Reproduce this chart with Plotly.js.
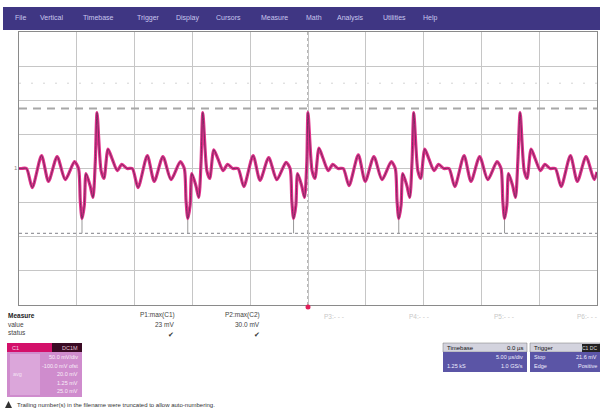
<!DOCTYPE html>
<html>
<head>
<meta charset="utf-8">
<script src="https://cdn.plot.ly/plotly-3.0.1.min.js"></script>
<style>html,body{margin:0;padding:0;background:#fff;}#chart{width:600px;height:411px;}</style>
</head>
<body>
<div id="chart"></div>
<script>
// Waveform C1, time in divisions (centre = 0), amplitude in divisions
const timeDiv = [
  -5.00,-4.96,-4.87,-4.77,-4.61,-4.49,-4.34,-4.20,-4.04,-3.97,-3.94,-3.91,-3.87,-3.84,-3.77,-3.72,-3.68,
  -3.65,-3.58,-3.53,-3.46,-3.39,-3.30,-3.22,-3.13,-3.04,-2.94,-2.78,-2.66,-2.51,-2.37,-2.21,-2.14,-2.11,-2.08,-2.04,-2.01,-1.94,-1.89,-1.85,
  -1.82,-1.75,-1.70,-1.63,-1.56,-1.47,-1.39,-1.30,-1.21,-1.11,-0.95,-0.83,-0.68,-0.54,-0.38,-0.31,-0.28,-0.25,-0.21,-0.18,-0.11,-0.06,-0.02,
  0.00,0.07,0.12,0.19,0.26,0.35,0.43,0.52,0.61,0.71,0.87,0.99,1.14,1.28,1.44,1.51,1.54,1.57,1.61,1.64,1.71,1.76,1.80,
  1.83,1.90,1.95,2.02,2.09,2.18,2.26,2.35,2.44,2.54,2.70,2.82,2.97,3.11,3.27,3.34,3.37,3.40,3.44,3.47,3.54,3.59,3.63,
  3.67,3.74,3.79,3.86,3.93,4.02,4.10,4.19,4.28,4.38,4.54,4.66,4.81,4.95,5.00
];
const voltDiv = [
  0,0,0,-0.56,0.38,-0.38,0.35,-0.33,0.2,0,-0.94,-1.47,-1.08,-0.15,-0.5,-0.85,0.2,
  1.64,-0.06,-0.29,0.57,0.29,-0.06,0.12,0,0,-0.56,0.38,-0.38,0.35,-0.33,0.2,0,-0.94,-1.47,-1.08,-0.15,-0.5,-0.85,0.2,
  1.64,-0.06,-0.29,0.55,0.29,-0.06,0.12,0,0,-0.53,0.38,-0.35,0.32,-0.33,0.18,0,-0.94,-1.47,-1.08,-0.15,-0.5,-0.85,0.2,
  1.64,-0.06,-0.29,0.6,0.3,-0.06,0.12,0,0,-0.5,0.4,-0.38,0.35,-0.33,0.2,0,-0.94,-1.47,-1.08,-0.15,-0.5,-0.85,0.2,
  1.64,-0.06,-0.29,0.57,0.29,-0.06,0.12,0,0,-0.53,0.38,-0.38,0.35,-0.33,0.2,0,-0.94,-1.47,-1.08,-0.15,-0.5,-0.85,0.2,
  1.64,-0.06,-0.29,0.57,0.29,-0.06,0.12,0,0,-0.53,0.38,-0.38,0.35,-0.32,-0.1
];
// measurement markers
const negPeakTimes = [-3.91,-2.08,-0.25,1.57,3.40];
const negPeakLevel = -1.47;
const upperLevel = 1.76;
const lowerLevel = -1.9;
const dottedLevel = 2.5;

const menuItems = ["File","Vertical","Timebase","Trigger","Display","Cursors","Measure","Math","Analysis","Utilities","Help"];
const menuX = [13,38,81,135,174,214,259,304,335,381,421];

const measureHeaders = ["P1:max(C1)","P2:max(C2)"];
const measureValues = ["23 mV","30.0 mV"];
const emptyParams = ["P3:- - -","P4:- - -","P5:- - -","P6:- - -"];

// ---------------------------------------------------------------
const W = 600, H = 411;
const xp = px => px / W;
const yp = py => 1 - py / H;

const markerX = [], markerY = [];
negPeakTimes.forEach(t => { markerX.push(t, t, null); markerY.push(negPeakLevel, lowerLevel, null); });

const traces = [
  {x: markerX, y: markerY, mode: 'lines', line: {color: '#999', width: 1}, hoverinfo: 'skip', showlegend: false},
  {x: timeDiv, y: voltDiv, mode: 'lines', line: {color: '#e2328c', width: 3.2, shape: 'spline', smoothing: 0.7}, showlegend: false},
  {x: timeDiv, y: voltDiv, mode: 'lines', line: {color: '#7a2a60', width: 1, shape: 'spline', smoothing: 0.7}, showlegend: false}
];

const shapes = [];
// menu bar
shapes.push({type: 'rect', xref: 'paper', yref: 'paper', x0: xp(3), x1: 1, y0: yp(30), y1: yp(7), fillcolor: '#3f3683', line: {width: 0}, layer: 'below'});
// level lines
shapes.push({type: 'line', xref: 'x', yref: 'y', x0: -5, x1: 5, y0: upperLevel, y1: upperLevel, line: {color: '#a8a8a8', width: 2, dash: '8px,6px'}});
shapes.push({type: 'line', xref: 'x', yref: 'y', x0: -5, x1: 5, y0: lowerLevel, y1: lowerLevel, line: {color: '#9a9aa0', width: 1.2, dash: 'dot'}, layer: 'below'});
shapes.push({type: 'line', xref: 'x', yref: 'y', x0: -5, x1: 5, y0: dottedLevel, y1: dottedLevel, line: {color: '#d4d4d4', width: 1, dash: '2px,10px'}, layer: 'below'});
// centre lines
shapes.push({type: 'line', xref: 'x', yref: 'y', x0: -5, x1: 5, y0: 0, y1: 0, line: {color: '#9ec3dc', width: 1}, layer: 'below'});
shapes.push({type: 'line', xref: 'x', yref: 'y', x0: 0, x1: 0, y0: -4, y1: 4, line: {color: '#707070', width: 1, dash: 'dot'}, layer: 'below'});
// trigger marker
shapes.push({type: 'circle', xref: 'paper', yref: 'paper', x0: xp(305.5), x1: xp(310.5), y0: yp(309.5), y1: yp(304.5), fillcolor: '#e0205a', line: {width: 0}});
// channel descriptor box
shapes.push({type: 'rect', xref: 'paper', yref: 'paper', x0: xp(7), x1: xp(82), y0: yp(397), y1: yp(352), fillcolor: '#cf8ccd', line: {width: 0}});
shapes.push({type: 'rect', xref: 'paper', yref: 'paper', x0: xp(7), x1: xp(52), y0: yp(352), y1: yp(343), fillcolor: '#d3106a', line: {width: 0}});
shapes.push({type: 'rect', xref: 'paper', yref: 'paper', x0: xp(52), x1: xp(82), y0: yp(352), y1: yp(343), fillcolor: '#3a0a24', line: {width: 0}});
shapes.push({type: 'rect', xref: 'paper', yref: 'paper', x0: xp(10), x1: xp(40), y0: yp(395), y1: yp(354), fillcolor: '#dba6da', line: {width: 0}});
// timebase box
shapes.push({type: 'rect', xref: 'paper', yref: 'paper', x0: xp(443), x1: xp(527), y0: yp(352), y1: yp(343), fillcolor: '#d3d3de', line: {color: '#777', width: 0.5}});
shapes.push({type: 'rect', xref: 'paper', yref: 'paper', x0: xp(443), x1: xp(527), y0: yp(372), y1: yp(352), fillcolor: '#5b55a6', line: {width: 0}});
// trigger box
shapes.push({type: 'rect', xref: 'paper', yref: 'paper', x0: xp(530), x1: xp(600), y0: yp(352), y1: yp(343), fillcolor: '#d3d3de', line: {color: '#777', width: 0.5}});
shapes.push({type: 'rect', xref: 'paper', yref: 'paper', x0: xp(582), x1: xp(600), y0: yp(352), y1: yp(344), fillcolor: '#222', line: {width: 0}});
shapes.push({type: 'rect', xref: 'paper', yref: 'paper', x0: xp(530), x1: xp(600), y0: yp(372), y1: yp(352), fillcolor: '#5b55a6', line: {width: 0}});
// warning triangle
shapes.push({type: 'path', xref: 'paper', yref: 'paper', path: `M ${xp(5)} ${yp(408)} L ${xp(12)} ${yp(408)} L ${xp(8.5)} ${yp(401)} Z`, fillcolor: '#333', line: {width: 0}});

const annotations = [];
const font = 'Liberation Sans, Arial, sans-serif';
function txt(text, px, py, size, color, anchor, bold) {
  annotations.push({text: bold ? '<b>' + text + '</b>' : text, xref: 'paper', yref: 'paper', x: xp(px), y: yp(py),
    xanchor: anchor || 'left', yanchor: 'middle', showarrow: false, font: {family: font, size: size, color: color}});
}
menuItems.forEach((m, i) => txt(m, menuX[i], 18, 7, '#c9c6ee'));
txt('1', 12, 168, 6, '#888');
txt('Measure', 6, 315, 6.5, '#222', 'left', true);
txt('value', 6, 324, 6.5, '#444');
txt('status', 6, 332, 6.5, '#444');
txt(measureHeaders[0], 177, 315, 6.5, '#444', 'right');
txt(measureHeaders[1], 262, 315, 6.5, '#444', 'right');
txt(measureValues[0], 176, 324, 6.5, '#444', 'right');
txt(measureValues[1], 262, 324, 6.5, '#444', 'right');
txt('✔', 176, 334, 7, '#333', 'right');
txt('✔', 262, 334, 7, '#333', 'right');
const emptyX = [322, 407, 492, 575];
emptyParams.forEach((p, i) => txt(p, emptyX[i], 316, 6.5, '#c8c8c8'));
txt('C1', 10, 347.5, 5.5, '#f8d0e4');
txt('DC1M', 80, 347.5, 5.5, '#e0c0d0', 'right');
const boxRows = [['', '50.0 mV/div'], ['', '-100.0 mV ofst'], ['avg', '20.0 mV'], ['', '1.25 mV'], ['', '25.0 mV']];
boxRows.forEach((r, i) => { txt(r[0], 11, 357 + i * 8.6, 5.5, '#f4e4f4'); txt(r[1], 80, 357 + i * 8.6, 5.5, '#f8eef8', 'right'); });
txt('Timebase', 445, 347.5, 6, '#111');
txt('0.0 µs', 525, 347.5, 6, '#111', 'right');
txt('5.00 µs/div', 525, 357, 5.5, '#eeeeff', 'right');
txt('1.25 kS', 445, 366, 5.5, '#eeeeff');
txt('1.0 GS/s', 525, 366, 5.5, '#eeeeff', 'right');
txt('Trigger', 532, 347.5, 6, '#111');
txt('C1 DC', 599, 347.5, 5, '#ddd', 'right');
txt('Stop', 532, 357, 5.5, '#eeeeff');
txt('21.6 mV', 599, 357, 5.5, '#eeeeff', 'right');
txt('Edge', 532, 366, 5.5, '#eeeeff');
txt('Positive', 599, 366, 5.5, '#eeeeff', 'right');
txt('Trailing number(s) in the filename were truncated to allow auto-numbering.', 15, 404.5, 6, '#333');

const axisCommon = {showticklabels: false, ticks: '', zeroline: false, showline: true, mirror: true,
  linecolor: '#8a8a8a', linewidth: 1, gridcolor: '#c6c6c6', gridwidth: 1, fixedrange: true};

const layout = {
  width: W, height: H, margin: {l: 0, r: 0, t: 0, b: 0},
  paper_bgcolor: '#ffffff', plot_bgcolor: '#ffffff',
  xaxis: Object.assign({domain: [xp(19), xp(597)], range: [-5, 5], dtick: 1, tick0: 0}, axisCommon),
  yaxis: Object.assign({domain: [yp(305), yp(32)], range: [-4, 4], dtick: 1, tick0: 0}, axisCommon),
  shapes: shapes, annotations: annotations, showlegend: false
};
Plotly.newPlot('chart', traces, layout, {staticPlot: true, displayModeBar: false});
</script>
</body>
</html>
